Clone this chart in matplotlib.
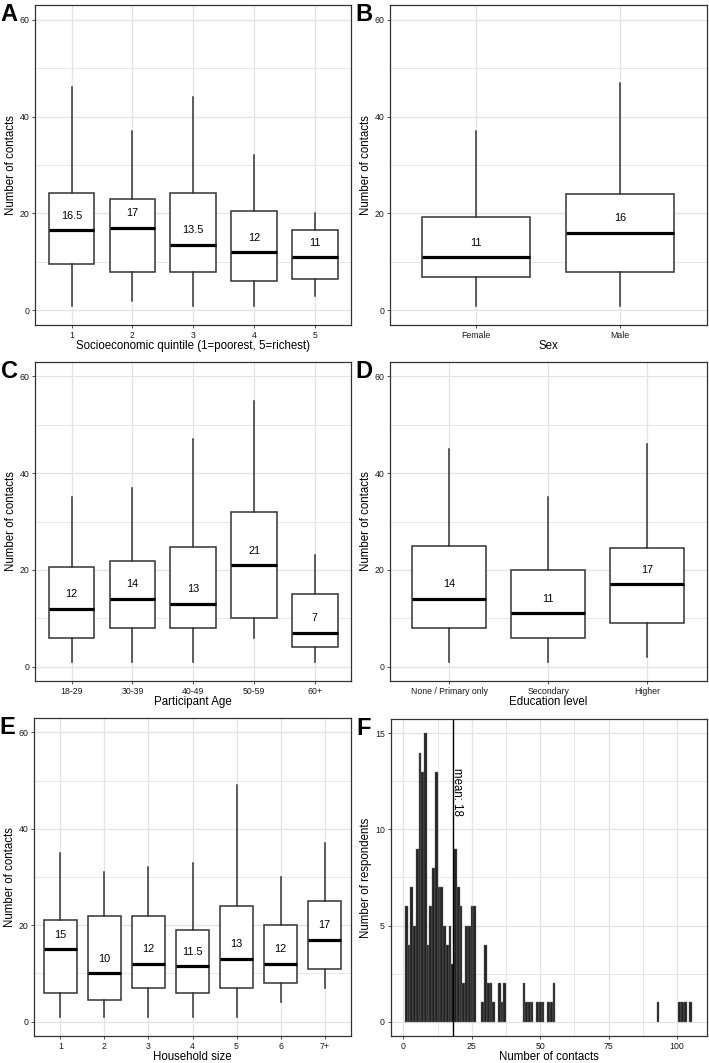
import numpy as np
import matplotlib
matplotlib.use('Agg')
import matplotlib.pyplot as plt
from matplotlib.ticker import MultipleLocator

plt.rcParams['font.family'] = ['Liberation Sans', 'DejaVu Sans']

# Box plot summaries: (whisker low, q1, median, q3, whisker high)
quintile_labels = ['1', '2', '3', '4', '5']
quintile_stats = [(1, 9.5, 16.5, 24.2, 46), (2, 8, 17, 23, 37), (1, 8, 13.5, 24.2, 44),
                  (1, 6, 12, 20.5, 32), (3, 6.5, 11, 16.5, 20)]

sex_labels = ['Female', 'Male']
sex_stats = [(1, 7, 11, 19.2, 37), (1, 8, 16, 24, 47)]

age_labels = ['18-29', '30-39', '40-49', '50-59', '60+']
age_stats = [(1, 6, 12, 20.5, 35), (1, 8, 14, 21.8, 37), (1, 8, 13, 24.8, 47),
             (6, 10, 21, 32, 55), (1, 4, 7, 15, 23)]

edu_labels = ['None / Primary only', 'Secondary', 'Higher']
edu_stats = [(1, 8, 14, 25, 45), (1, 6, 11, 20, 35), (2, 9, 17, 24.5, 46)]

hh_labels = ['1', '2', '3', '4', '5', '6', '7+']
hh_stats = [(1, 6, 15, 21, 35), (1, 4.5, 10, 22, 31), (1, 7, 12, 22, 32), (1, 6, 11.5, 19, 33),
            (1, 7, 13, 24, 49), (4, 8, 12, 20, 30), (7, 11, 17, 25, 37)]

# Histogram of contacts (bin width 1)
contacts = [1, 2, 3, 4, 5, 6, 7, 8, 9, 10, 11, 12, 13, 14, 15, 16, 17, 18, 19, 20, 21, 22, 23,
            24, 25, 26, 29, 30, 31, 32, 33, 35, 36, 37, 44, 45, 46, 47, 49, 50, 51, 53, 54, 55,
            93, 101, 102, 103, 105]
respondents = [6, 4, 7, 5, 9, 14, 13, 15, 4, 6, 8, 13, 7, 7, 5, 4, 5, 3, 9, 7, 6, 2, 5,
               5, 6, 6, 1, 4, 2, 2, 1, 2, 1, 2, 2, 1, 1, 1, 1, 1, 1, 1, 1, 2,
               1, 1, 1, 1, 1]
mean_contacts = 18

W, H = 709, 1063
fig = plt.figure(figsize=(W / 100, H / 100), dpi=100)

GRID = '#E3E3E3'
DARK = '#333333'
TITLE_FS = 8.3
TICK_FS = 6.3


def make_ax(left, right, top, bottom):
    ax = fig.add_axes([left / W, 1 - bottom / H, (right - left) / W, (bottom - top) / H])
    ax.set_facecolor('white')
    for s in ax.spines.values():
        s.set_color(DARK)
        s.set_linewidth(0.9)
    ax.tick_params(length=2.5, width=0.6, color=DARK, labelsize=TICK_FS, labelcolor='#1a1a1a', pad=1.5)
    ax.set_axisbelow(True)
    return ax


def box_panel(ax, labels, stats, xlabel, letter):
    pos = np.arange(1, len(labels) + 1)
    bxp = [dict(whislo=s[0], q1=s[1], med=s[2], q3=s[3], whishi=s[4]) for s in stats]
    ax.bxp(bxp, positions=pos, widths=0.75, showcaps=False, showfliers=False,
           patch_artist=True,
           boxprops=dict(facecolor='white', edgecolor=DARK, linewidth=1.1),
           whiskerprops=dict(color=DARK, linewidth=1.1),
           medianprops=dict(color='black', linewidth=2.3, solid_capstyle='butt'))
    for p, s in zip(pos, stats):
        med = s[2]
        ax.text(p, med + 3, '%g' % med, ha='center', va='center', fontsize=7.8, color='black')
    ax.set_xlim(0.4, len(labels) + 0.6)
    ax.set_ylim(-3, 63)
    ax.set_xticks(pos)
    ax.set_xticklabels(labels)
    ax.yaxis.set_major_locator(MultipleLocator(20))
    ax.yaxis.set_minor_locator(MultipleLocator(10))
    ax.tick_params(axis='y', which='minor', length=0)
    ax.grid(True, which='major', color=GRID, linewidth=0.9)
    ax.grid(True, which='minor', axis='y', color=GRID, linewidth=0.6)
    ax.set_ylabel('Number of contacts', fontsize=TITLE_FS, labelpad=2)
    ax.set_xlabel(xlabel, fontsize=TITLE_FS, labelpad=0)
    ax.text(-0.108, 1.005, letter, transform=ax.transAxes, fontsize=17, fontweight='bold',
            ha='left', va='top')


axA = make_ax(35, 351.5, 5, 325)
box_panel(axA, quintile_labels, quintile_stats, 'Socioeconomic quintile (1=poorest, 5=richest)', 'A')
axB = make_ax(390, 706.5, 5, 325)
box_panel(axB, sex_labels, sex_stats, 'Sex', 'B')
axC = make_ax(35, 351.5, 362, 681)
box_panel(axC, age_labels, age_stats, 'Participant Age', 'C')
axD = make_ax(390, 706.5, 362, 681)
box_panel(axD, edu_labels, edu_stats, 'Education level', 'D')
axE = make_ax(34, 351, 718, 1036)
box_panel(axE, hh_labels, hh_stats, 'Household size', 'E')

# Histogram panel
axF = make_ax(390.5, 706.5, 719, 1036)
axF.bar(contacts, respondents, width=1.0, color='#222222', edgecolor='#777777', linewidth=0.3)
axF.axvline(mean_contacts, color='black', linewidth=1.0)
axF.text(mean_contacts + 1.7, 13.2, 'mean: %d' % mean_contacts, rotation=270, ha='center', va='top',
         fontsize=TITLE_FS, color='black')
axF.set_xlim(-4.75, 110.75)
axF.set_ylim(-0.75, 15.75)
axF.xaxis.set_major_locator(MultipleLocator(25))
axF.xaxis.set_minor_locator(MultipleLocator(12.5))
axF.yaxis.set_major_locator(MultipleLocator(5))
axF.yaxis.set_minor_locator(MultipleLocator(2.5))
axF.tick_params(which='minor', length=0)
axF.grid(True, which='major', color=GRID, linewidth=0.9)
axF.grid(True, which='minor', color=GRID, linewidth=0.6)
axF.set_ylabel('Number of respondents', fontsize=TITLE_FS, labelpad=2)
axF.set_xlabel('Number of contacts', fontsize=TITLE_FS, labelpad=0)
axF.text(-0.108, 1.005, 'F', transform=axF.transAxes, fontsize=17, fontweight='bold',
         ha='left', va='top')

fig.savefig('out.png', dpi=100)
